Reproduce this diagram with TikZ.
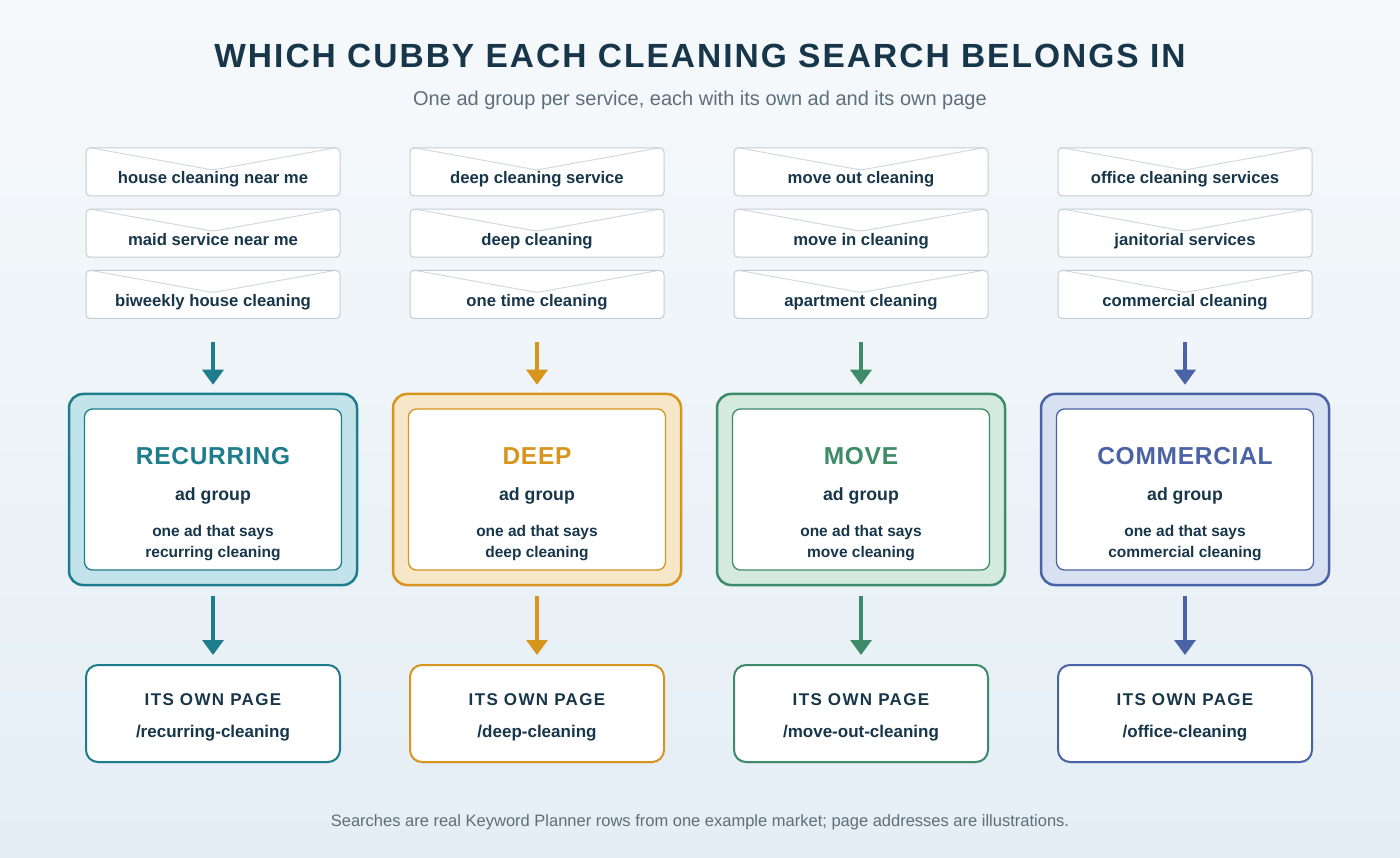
\documentclass[tikz,border=0pt]{standalone}
\usepackage{fontspec}
\setmainfont{Liberation Sans}
\usepackage{tikz}
\usetikzlibrary{arrows.meta, shadows}
\definecolor{ink}{HTML}{17364A}
\definecolor{subgray}{HTML}{5E6E7A}
\definecolor{kwline}{HTML}{C3CCD4}
\definecolor{envline}{HTML}{D3D9DF}
\definecolor{bgtop}{HTML}{F6F9FB}
\definecolor{bgbot}{HTML}{E4EEF5}
\definecolor{recC}{HTML}{1E7D8C}
\definecolor{recL}{HTML}{C3E3EA}
\definecolor{deepC}{HTML}{D8951E}
\definecolor{deepL}{HTML}{F6E7C9}
\definecolor{moveC}{HTML}{3D8B68}
\definecolor{moveL}{HTML}{D4EADF}
\definecolor{commC}{HTML}{4A62A6}
\definecolor{commL}{HTML}{D7E1F1}
\tikzstyle{kwbox} = [rectangle, rounded corners=4pt, minimum width=254pt, minimum height=48pt, draw=kwline, line width=1pt, fill=white, text=ink, font=\fontsize{16.7}{20}\selectfont\bfseries, text height=24pt, text depth=0pt, path picture={\draw[envline, line width=1pt] ([yshift=1pt]path picture bounding box.north west) -- ([yshift=2pt]path picture bounding box.center) -- ([yshift=1pt]path picture bounding box.north east);}]
\tikzstyle{grpbox} = [rectangle, rounded corners=14pt, minimum width=288pt, minimum height=191pt, line width=2.5pt]
\tikzstyle{adbox} = [rectangle, rounded corners=8pt, minimum width=257pt, minimum height=161pt, line width=1.3pt, fill=white]
\tikzstyle{grpname} = [anchor=base, font=\fontsize{24.5}{28}\selectfont\bfseries\addfontfeature{LetterSpace=3}]
\tikzstyle{grpkind} = [anchor=base, text=ink, font=\fontsize{17.7}{20}\selectfont\bfseries]
\tikzstyle{grpad} = [text=ink, align=center, font=\fontsize{15.5}{21}\selectfont\bfseries]
\tikzstyle{pagebox} = [rectangle, rounded corners=12pt, minimum width=254pt, minimum height=97pt, line width=2pt, fill=white, text=ink, align=center, font=\fontsize{17}{20}\selectfont\bfseries, drop shadow={shadow xshift=0pt, shadow yshift=-2pt, opacity=0.07}]
\tikzstyle{arrow} = [line width=3.2pt, -{Triangle[width=21pt, length=15pt]}]
\newcommand{\spaced}{\rule{0pt}{20pt}\addfontfeature{LetterSpace=8}}

\begin{document}
\begin{tikzpicture}[x=1pt, y=-1pt, node distance=61.25pt]
        \shade[top color=bgtop, bottom color=bgbot] (0,0) rectangle (1400,858);
        \useasboundingbox (0,0) rectangle (1400,858);
        \node (title) [text=ink, font=\fontsize{33.5}{38}\selectfont\bfseries\addfontfeature{LetterSpace=6}] at (700,56) {WHICH CUBBY EACH CLEANING SEARCH BELONGS IN};
        \node (subtitle) [text=subgray, font=\fontsize{20}{24}\selectfont] at (700,100) {One ad group per service, each with its own ad and its own page};

        \node (rec1) [kwbox] at (213,172) {house cleaning near me};
        \node (rec2) [kwbox, below of=rec1] {maid service near me};
        \node (rec3) [kwbox, below of=rec2] {biweekly house cleaning};
        \node (recgrp) [grpbox, draw=recC, fill=recL, below of=rec3, node distance=195pt] {};
        \node (recad) [adbox, draw=recC] at (recgrp) {};
        \node (recname) [grpname, text=recC] at (213,464) {RECURRING};
        \node (reckind) [grpkind] at (213,500) {ad group};
        \node (recsays) [grpad] at (213,543) {one ad that says\\recurring cleaning};
        \node (recpage) [pagebox, draw=recC, below of=recgrp, node distance=224pt] {{\spaced ITS OWN PAGE}\\[12pt]/recurring-cleaning};
        \draw [arrow, recC, shorten <=23pt, shorten >=8pt] (rec3) -- (recgrp);
        \draw [arrow, recC, shorten <=10pt, shorten >=9pt] (recgrp) -- (recpage);

        \node (deep1) [kwbox] at (537,172) {deep cleaning service};
        \node (deep2) [kwbox, below of=deep1] {deep cleaning};
        \node (deep3) [kwbox, below of=deep2] {one time cleaning};
        \node (deepgrp) [grpbox, draw=deepC, fill=deepL, below of=deep3, node distance=195pt] {};
        \node (deepad) [adbox, draw=deepC] at (deepgrp) {};
        \node (deepname) [grpname, text=deepC] at (537,464) {DEEP};
        \node (deepkind) [grpkind] at (537,500) {ad group};
        \node (deepsays) [grpad] at (537,543) {one ad that says\\deep cleaning};
        \node (deeppage) [pagebox, draw=deepC, below of=deepgrp, node distance=224pt] {{\spaced ITS OWN PAGE}\\[12pt]/deep-cleaning};
        \draw [arrow, deepC, shorten <=23pt, shorten >=8pt] (deep3) -- (deepgrp);
        \draw [arrow, deepC, shorten <=10pt, shorten >=9pt] (deepgrp) -- (deeppage);

        \node (move1) [kwbox] at (861,172) {move out cleaning};
        \node (move2) [kwbox, below of=move1] {move in cleaning};
        \node (move3) [kwbox, below of=move2] {apartment cleaning};
        \node (movegrp) [grpbox, draw=moveC, fill=moveL, below of=move3, node distance=195pt] {};
        \node (movead) [adbox, draw=moveC] at (movegrp) {};
        \node (movename) [grpname, text=moveC] at (861,464) {MOVE};
        \node (movekind) [grpkind] at (861,500) {ad group};
        \node (movesays) [grpad] at (861,543) {one ad that says\\move cleaning};
        \node (movepage) [pagebox, draw=moveC, below of=movegrp, node distance=224pt] {{\spaced ITS OWN PAGE}\\[12pt]/move-out-cleaning};
        \draw [arrow, moveC, shorten <=23pt, shorten >=8pt] (move3) -- (movegrp);
        \draw [arrow, moveC, shorten <=10pt, shorten >=9pt] (movegrp) -- (movepage);

        \node (comm1) [kwbox] at (1185,172) {office cleaning services};
        \node (comm2) [kwbox, below of=comm1] {janitorial services};
        \node (comm3) [kwbox, below of=comm2] {commercial cleaning};
        \node (commgrp) [grpbox, draw=commC, fill=commL, below of=comm3, node distance=195pt] {};
        \node (commad) [adbox, draw=commC] at (commgrp) {};
        \node (commname) [grpname, text=commC] at (1185,464) {COMMERCIAL};
        \node (commkind) [grpkind] at (1185,500) {ad group};
        \node (commsays) [grpad] at (1185,543) {one ad that says\\commercial cleaning};
        \node (commpage) [pagebox, draw=commC, below of=commgrp, node distance=224pt] {{\spaced ITS OWN PAGE}\\[12pt]/office-cleaning};
        \draw [arrow, commC, shorten <=23pt, shorten >=8pt] (comm3) -- (commgrp);
        \draw [arrow, commC, shorten <=10pt, shorten >=9pt] (commgrp) -- (commpage);

        \node (footer) [text=subgray, font=\fontsize{16.5}{20}\selectfont] at (700,822) {Searches are real Keyword Planner rows from one example market; page addresses are illustrations.};
    \end{tikzpicture}
\end{document}
